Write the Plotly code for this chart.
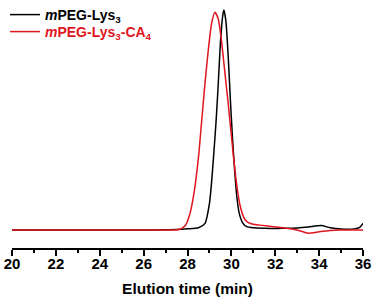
import plotly.graph_objects as go

# Elution time (min) and normalized detector response
t_lys3 = [20, 22, 24, 26, 27.5, 28.0, 28.5, 28.8, 29.0, 29.1, 29.2, 29.3, 29.4, 29.5, 29.6, 29.66,
          29.75, 29.85, 29.95, 30.05, 30.15, 30.25, 30.35, 30.5, 30.7, 31.0, 31.5, 32.0, 32.5, 33.0,
          33.5, 34.1, 34.5, 35.0, 35.6, 35.85, 36.0]
y_lys3 = [0.0, 0.0, 0.0, 0.0, 0.002, 0.005, 0.01, 0.03, 0.12, 0.22, 0.35, 0.49, 0.66, 0.85, 0.97, 1.0,
          0.95, 0.8, 0.6, 0.42, 0.27, 0.15, 0.08, 0.035, 0.015, 0.01, 0.008, 0.007, 0.008, 0.009,
          0.013, 0.02, 0.01, 0.004, 0.005, 0.012, 0.03]

t_lys3_ca4 = [20, 22, 24, 26, 27.4, 27.66, 27.9, 28.1, 28.3, 28.5, 28.65, 28.8, 28.95, 29.1, 29.25,
              29.4, 29.55, 29.7, 29.85, 29.95, 30.1, 30.25, 30.4, 30.6, 30.8, 31.0, 31.3, 32.0, 32.5,
              33.0, 33.5, 34.0, 34.5, 35.0, 36.0]
y_lys3_ca4 = [0.0, 0.0, 0.0, 0.0, 0.0, 0.003, 0.02, 0.07, 0.17, 0.33, 0.5, 0.67, 0.82, 0.94, 0.99,
              0.96, 0.86, 0.72, 0.58, 0.48, 0.33, 0.2, 0.11, 0.05, 0.032, 0.026, 0.022, 0.014, 0.008,
              0.0, -0.015, -0.008, -0.002, 0.0, 0.0]

x_ticks = [20, 22, 24, 26, 28, 30, 32, 34, 36]
name_lys3 = "<b><i>m</i>PEG-Lys<sub>3</sub></b>"
name_ca4 = "<b><i>m</i>PEG-Lys<sub>3</sub>-CA<sub>4</sub></b>"

RED = "#e0161e"
FONT = "Liberation Sans, Arial, sans-serif"

fig = go.Figure()
fig.add_trace(go.Scatter(x=t_lys3, y=y_lys3, mode="lines", name=name_lys3, legend="legend",
                         line=dict(color="black", width=1.5, shape="spline", smoothing=0.6)))
fig.add_trace(go.Scatter(x=t_lys3_ca4, y=y_lys3_ca4, mode="lines", legend="legend2",
                         name=f"<span style='color:{RED}'>{name_ca4}</span>",
                         line=dict(color=RED, width=1.5, shape="spline", smoothing=0.6)))

leg_common = dict(x=-0.02, xanchor="left", yanchor="top", yref="paper",
                  bgcolor="rgba(0,0,0,0)", font=dict(size=14, family=FONT))

fig.update_layout(
    width=375, height=301,
    margin=dict(l=12, r=12, t=5, b=53, autoexpand=False),
    paper_bgcolor="white", plot_bgcolor="white",
    font=dict(family=FONT, size=14, color="black"),
    showlegend=True,
    legend=dict(y=1 + 6 / 243, **leg_common),
    legend2=dict(y=1 - 11 / 243, **leg_common),
    xaxis=dict(range=[20, 36], tickvals=x_ticks, ticktext=[str(v) for v in x_ticks],
               showline=True, linecolor="black", linewidth=2,
               ticks="outside", ticklen=6, tickwidth=2, tickcolor="black",
               ticklabelstandoff=-5,
               minor=dict(dtick=1, ticks="outside", ticklen=3, tickwidth=2, tickcolor="black"),
               showgrid=False, zeroline=False,
               tickfont=dict(size=15, family=FONT, weight="bold"),
               title=dict(text="Elution time (min)", font=dict(size=15.5, family=FONT, weight="bold"),
                          standoff=12)),
    yaxis=dict(range=[-0.082, 1.023], visible=False, showgrid=False, zeroline=False),
)

fig.write_html("out.html", config={"displayModeBar": False},
               post_script="document.body.style.margin='0';")
